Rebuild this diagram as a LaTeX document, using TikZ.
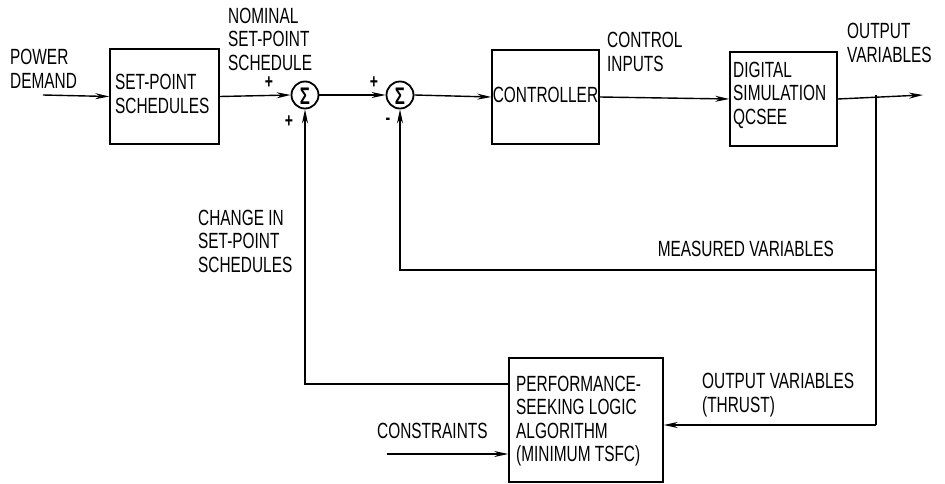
\documentclass[tikz,border=0pt]{standalone}
\usepackage{fontspec}
\setmainfont{Liberation Sans}[FakeStretch=0.7]
\usetikzlibrary{arrows.meta}
\begin{document}
\begin{tikzpicture}[x=1pt,y=-1pt,
  every node/.style={font=\fontsize{22}{23.5}\selectfont, inner sep=0pt, align=left},
  blk/.style={draw, line width=1.5pt, rectangle},
  sumnode/.style={draw, circle, line width=1.8pt, minimum size=27pt},
  wire/.style={line width=1.4pt},
  arr/.style={wire, -{Stealth[length=14pt,width=6pt]}},
  sign/.style={font=\fontsize{20}{20}\selectfont\bfseries}]
\useasboundingbox (0,0) rectangle (945,484);

% blocks
\node[blk, minimum width=109pt, minimum height=95pt] (sps) at (164.5,96.5) {};
\node[anchor=west] at (115,94) {SET-POINT\\SCHEDULES};

\node[sumnode] (s1) at (305,95) {};
\node[font=\fontsize{24}{24}\selectfont\bfseries] at (305,96) {Σ};
\node[sumnode] (s2) at (400,95) {};
\node[font=\fontsize{24}{24}\selectfont\bfseries] at (400,96) {Σ};

\node[blk, minimum width=107pt, minimum height=94pt] (ctl) at (545.5,97) {};
\node at (545.5,95) {CONTROLLER};

\node[blk, minimum width=107pt, minimum height=94pt] (sim) at (783.5,99) {};
\node[anchor=west] at (733,95) {DIGITAL\\SIMULATION\\QCSEE};

\node[blk, minimum width=154pt, minimum height=124pt] (psl) at (586,420) {};
\node[anchor=west] at (516,421) {PERFORMANCE-\\SEEKING LOGIC\\ALGORITHM\\(MINIMUM TSFC)};

% coordinates
\coordinate (pin) at (43,95);
\coordinate (br) at (876,95);
\coordinate (out) at (923,95);
\coordinate (brd) at (876,425);
\coordinate (mv) at (876,270);
\coordinate (mvl) at (400,270);
\coordinate (cin) at (387,454);
\coordinate (fb) at (305,384);

% connectors
\draw[arr] (pin) -- (sps.west);
\draw[arr] (sps.east) -- (s1.west);
\draw[arr] (s1.east) -- (s2.west);
\draw[arr] (s2.east) -- (ctl.west);
\draw[arr] (ctl.east) -- (sim.west);
\draw[arr] (sim.east) -- (out);
\draw[wire] (br) -- (brd);
\draw[arr] (brd) -- (psl.east |- brd);
\draw[arr] (mv) -- (mvl) -- (s2.south);
\draw[arr] (psl.west |- fb) -- (fb) -- (s1.south);
\draw[arr] (cin) -- (psl.west |- cin);

% signs
\node[sign] at (269,83) {+};
\node[sign] at (289,122) {+};
\node[sign] at (374,83) {+};
\node[sign] at (388,121) {-};

% labels
\node[anchor=west] at (10,69) {POWER\\DEMAND};
\node[anchor=west] at (228,39) {NOMINAL\\SET-POINT\\SCHEDULE};
\node[anchor=west] at (607,52) {CONTROL\\INPUTS};
\node[anchor=west] at (847,43) {OUTPUT\\VARIABLES};
\node[anchor=east] at (834,249) {MEASURED VARIABLES};
\node[anchor=west] at (198,241) {CHANGE IN\\SET-POINT\\SCHEDULES};
\node[anchor=west] at (377,431) {CONSTRAINTS};
\node[anchor=west] at (702,395) {OUTPUT VARIABLES\\(THRUST)};
\end{tikzpicture}
\end{document}
